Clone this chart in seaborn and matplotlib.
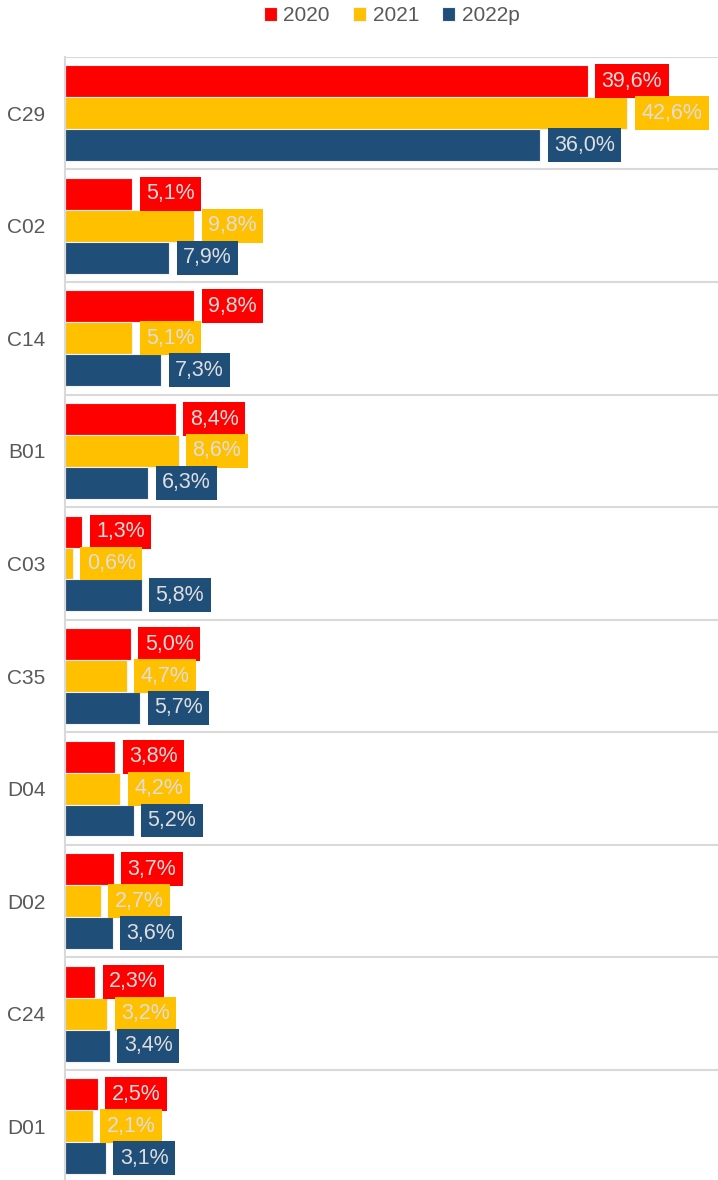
import pandas as pd
import numpy as np
import matplotlib
matplotlib.use("Agg")
import matplotlib.pyplot as plt
import seaborn as sns

# dữ liệu
categories = ['C29', 'C02', 'C14', 'B01', 'C03', 'C35', 'D04', 'D02', 'C24', 'D01']
years = ['2020', '2021', '2022p']
v2020 = [39.6, 5.1, 9.8, 8.4, 1.3, 5.0, 3.8, 3.7, 2.3, 2.5]
v2021 = [42.6, 9.8, 5.1, 8.6, 0.6, 4.7, 4.2, 2.7, 3.2, 2.1]
v2022 = [36.0, 7.9, 7.3, 6.3, 5.8, 5.7, 5.2, 3.6, 3.4, 3.1]
colors = ['#FF0000', '#FFC000', '#1F4E79']

df = pd.DataFrame({
    'cat': categories * 3,
    'year': np.repeat(years, len(categories)),
    'val': v2020 + v2021 + v2022,
})

sns.set_style('white')
plt.rcParams['font.family'] = ['Liberation Sans', 'DejaVu Sans']

fig = plt.figure(figsize=(7.18, 11.8), dpi=100)
ax = fig.add_axes([65 / 718, -2.6 / 1180, 1 - 65 / 718, 1125.7 / 1180])

sns.barplot(data=df, x='val', y='cat', hue='year', orient='h',
            palette=colors, saturation=1, width=0.85,
            edgecolor='#F2F2F2', linewidth=0.8,
            order=categories, hue_order=years, ax=ax)

ax.set_xlim(0, 653 / 13.2)
ax.set_ylim(len(categories) - 0.5, -0.5)

# nhãn giá trị có nền cùng màu cột
fs = 15.5
for cont, col in zip(ax.containers, colors):
    for bar in cont:
        w = bar.get_width()
        y = bar.get_y() + bar.get_height() / 2
        ax.annotate(f'{w:.1f}%'.replace('.', ','), xy=(w, y),
                    xytext=(10, 0), textcoords='offset points',
                    ha='left', va='center', fontsize=fs, color='#DEDEDE',
                    bbox=dict(boxstyle='square,pad=0.3', fc=col, ec='none'))

# đường phân cách giữa các nhóm
for i in range(len(categories)):
    ax.axhline(i - 0.5, color='#D9D9D9', lw=1.5, zorder=0)

ax.set_xlabel('')
ax.set_ylabel('')
ax.set_xticks([])
ax.tick_params(axis='y', length=0, labelsize=15, labelcolor='#595959', pad=14)
for s in ['top', 'right', 'bottom']:
    ax.spines[s].set_visible(False)
ax.spines['left'].set_color('#D9D9D9')
ax.spines['left'].set_linewidth(1.5)

ax.legend(loc='center', bbox_to_anchor=(0.5, 1 + 41 / 1125.7), ncol=3,
          frameon=False, fontsize=15, labelcolor='#595959',
          handlelength=0.65, handleheight=0.65, handletextpad=0.3, columnspacing=1.1)

fig.savefig('out.png', dpi=100)
plt.close()
